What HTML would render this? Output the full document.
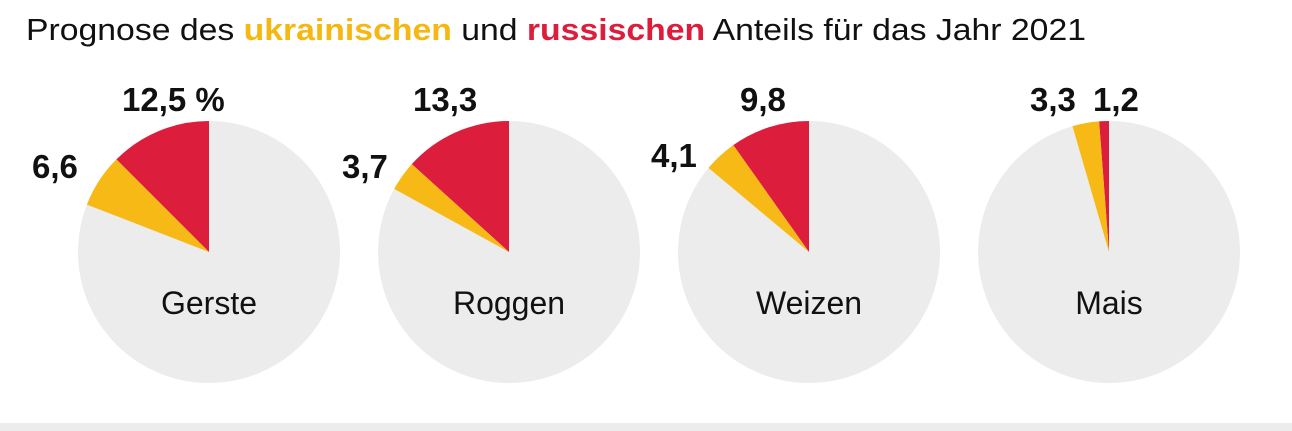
<!DOCTYPE html>
<html><head><meta charset="utf-8"><style>
body{margin:0;background:#fff;width:1292px;height:431px;overflow:hidden}
svg{display:block}
text{font-family:"Liberation Sans",sans-serif}
.b{font-weight:bold;font-size:33px;fill:#111}
.n{font-size:32px;fill:#111;text-anchor:middle}
</style></head><body>
<svg width="1292" height="431" viewBox="0 0 1292 431">
<rect x="0" y="423" width="1292" height="8" fill="#ececec"/>
<text x="26" y="40" font-size="31" fill="#111" textLength="1060" lengthAdjust="spacingAndGlyphs">Prognose des <tspan fill="#f5b712" font-weight="bold">ukrainischen</tspan> und <tspan fill="#dc1e3c" font-weight="bold">russischen</tspan> Anteils für das Jahr 2021</text>
<g transform="translate(209,252)">
<circle r="131" fill="#ececec"/>
<path d="M0 0 L-92.6 -92.6 A131 131 0 0 1 0 -131 Z" fill="#dc1e3c"/>
<path d="M0 0 L-122.1 -47.4 A131 131 0 0 1 -92.6 -92.6 Z" fill="#f7b916"/>
<text class="n" y="62">Gerste</text></g>
<g transform="translate(509,252)">
<circle r="131" fill="#ececec"/>
<path d="M0 0 L-97.2 -87.9 A131 131 0 0 1 0 -131 Z" fill="#dc1e3c"/>
<path d="M0 0 L-114.8 -63.1 A131 131 0 0 1 -97.2 -87.9 Z" fill="#f7b916"/>
<text class="n" y="62">Roggen</text></g>
<g transform="translate(809,252)">
<circle r="131" fill="#ececec"/>
<path d="M0 0 L-75.7 -106.9 A131 131 0 0 1 0 -131 Z" fill="#dc1e3c"/>
<path d="M0 0 L-100.5 -84.1 A131 131 0 0 1 -75.7 -106.9 Z" fill="#f7b916"/>
<text class="n" y="62">Weizen</text></g>
<g transform="translate(1109,252)">
<circle r="131" fill="#ececec"/>
<path d="M0 0 L-9.9 -130.6 A131 131 0 0 1 0 -131 Z" fill="#dc1e3c"/>
<path d="M0 0 L-36.5 -125.8 A131 131 0 0 1 -9.9 -130.6 Z" fill="#f7b916"/>
<text class="n" y="62">Mais</text></g>
<text class="b" x="122" y="111">12,5 %</text>
<text class="b" x="32" y="178">6,6</text>
<text class="b" x="413" y="111">13,3</text>
<text class="b" x="342" y="178">3,7</text>
<text class="b" x="740" y="111">9,8</text>
<text class="b" x="651" y="167">4,1</text>
<text class="b" x="1030" y="111">3,3</text>
<text class="b" x="1093" y="111">1,2</text>
</svg>
</body></html>
